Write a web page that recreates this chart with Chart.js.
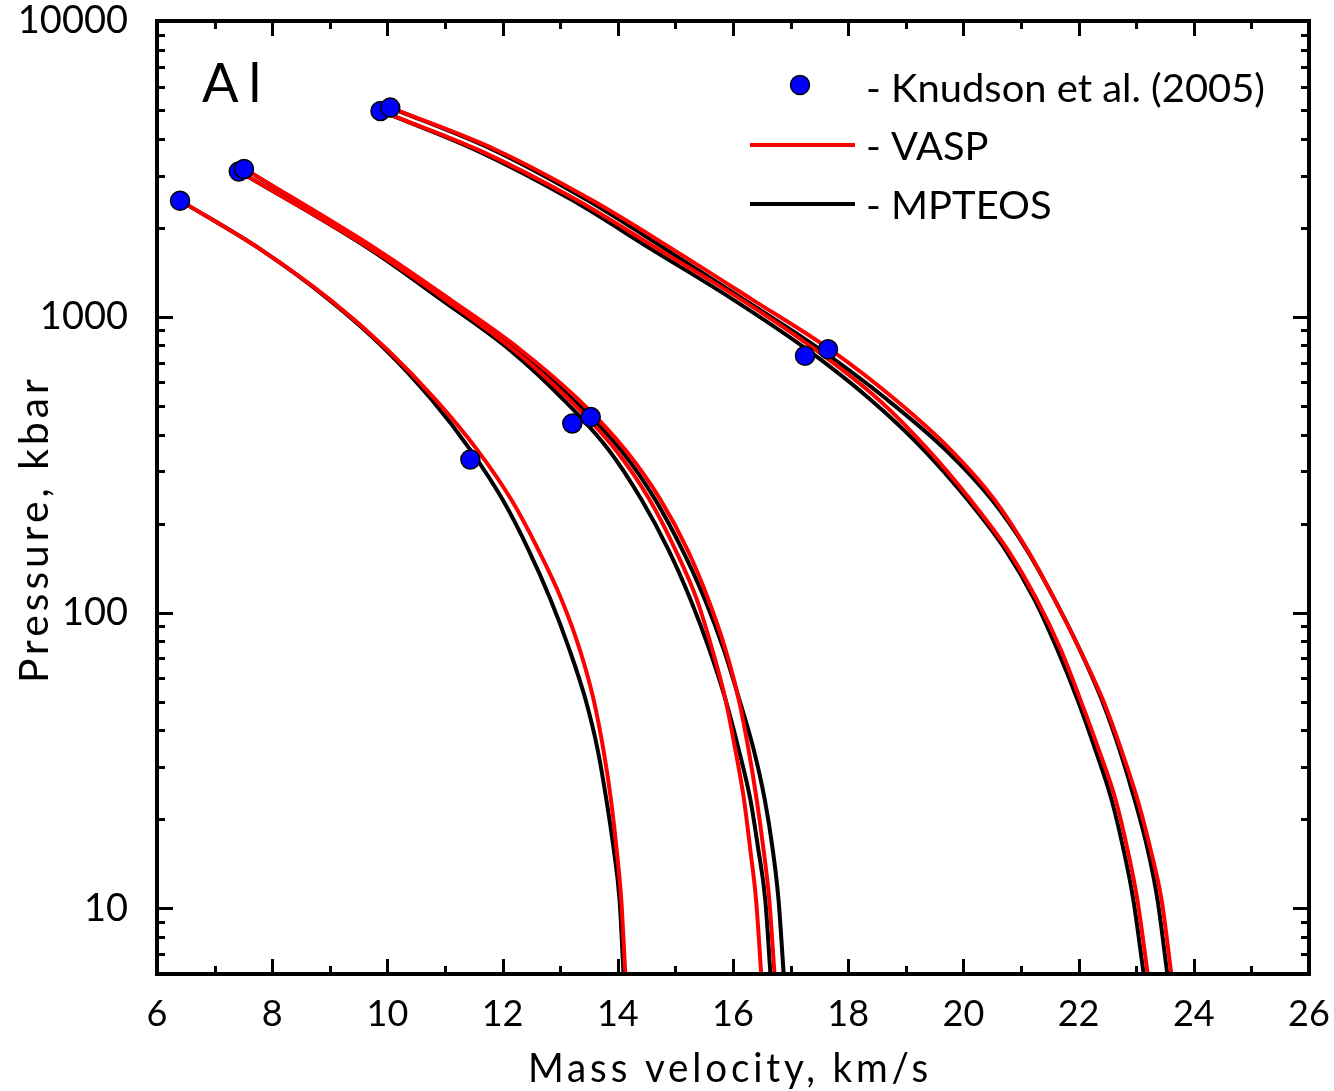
<!DOCTYPE html>
<html>
<head>
<meta charset="utf-8">
<title>Al release isentropes</title>
<script src="https://cdn.jsdelivr.net/npm/chart.js@4.4.1/dist/chart.umd.min.js"></script>
<style>
  html, body { margin: 0; padding: 0; background: #fff; }
  #wrap { width: 1334px; height: 1091px; }
</style>
</head>
<body>
<div id="wrap"><canvas id="chart" width="1334" height="1091"></canvas></div>
<script>
// Knudson et al. (2005): mass velocity (km/s) and pressure (kbar)
const knudsonU = [6.40, 7.42, 7.51, 9.88, 10.05, 11.44, 13.21, 13.53, 17.25, 17.65];
const knudsonP = [2466, 3098, 3162, 4966, 5095, 329, 436, 458, 738, 776];

// release from the lowest shock state
const release1P = [2466, 1684, 1141, 774, 524, 355, 241, 163, 111, 75, 50.8, 34.4, 23.4, 15.8, 10.7, 6];
const vasp1U    = [6.41, 7.81, 9.01, 10.00, 10.84, 11.56, 12.15, 12.62, 13.02, 13.34, 13.58, 13.75, 13.88, 13.98, 14.06, 14.13];
const mpteos1U  = [6.41, 7.81, 8.99, 9.97, 10.77, 11.44, 12.00, 12.45, 12.83, 13.16, 13.44, 13.65, 13.80, 13.93, 14.03, 14.10];

// releases from the two ~3 Mbar states
const release2aP = [3098, 1684, 1141, 774, 524, 355, 241, 163, 111, 75, 50.8, 34.4, 23.4, 15.8, 10.7, 6];
const vasp2aU    = [7.43, 9.74, 11.01, 12.19, 13.16, 13.96, 14.55, 15.00, 15.37, 15.64, 15.87, 16.04, 16.19, 16.30, 16.40, 16.49];
const mpteos2aU  = [7.43, 9.71, 10.94, 12.12, 13.06, 13.84, 14.41, 14.88, 15.26, 15.59, 15.87, 16.10, 16.30, 16.44, 16.56, 16.65];
const release2bP = [3162, 1684, 1141, 774, 524, 355, 241, 163, 111, 75, 50.8, 34.4, 23.4, 15.8, 10.7, 6];
const vasp2bU    = [7.52, 9.83, 11.10, 12.31, 13.32, 14.13, 14.74, 15.21, 15.57, 15.87, 16.10, 16.27, 16.41, 16.53, 16.63, 16.72];
const mpteos2bU  = [7.52, 9.79, 11.04, 12.24, 13.23, 14.05, 14.65, 15.12, 15.51, 15.84, 16.11, 16.36, 16.55, 16.69, 16.79, 16.88];

// releases from the two ~5 Mbar states
const release3aP = [5095, 3665, 2485, 1684, 1141, 774, 524, 355, 241, 163, 111, 75, 50.8, 34.4, 23.4, 15.8, 10.7, 6];
const vasp3aU    = [10.05, 11.89, 13.54, 14.97, 16.34, 17.69, 18.82, 19.78, 20.54, 21.11, 21.58, 22.02, 22.42, 22.74, 23.02, 23.25, 23.44, 23.61];
const mpteos3aU  = [10.05, 11.84, 13.46, 14.85, 16.20, 17.52, 18.68, 19.69, 20.49, 21.10, 21.58, 22.02, 22.40, 22.71, 22.97, 23.20, 23.37, 23.54];
const release3bP = [4966, 3665, 2485, 1684, 1141, 774, 524, 355, 241, 163, 111, 75, 50.8, 34.4, 23.4, 15.8, 10.7, 6];
const vasp3bU    = [9.88, 11.58, 13.28, 14.72, 16.15, 17.43, 18.53, 19.39, 20.12, 20.77, 21.27, 21.69, 22.03, 22.35, 22.64, 22.85, 23.02, 23.20];
const mpteos3bU  = [9.88, 11.53, 13.20, 14.60, 16.01, 17.29, 18.39, 19.31, 20.07, 20.73, 21.23, 21.63, 21.98, 22.29, 22.57, 22.78, 22.95, 23.13];

const velocityTicks = [6, 8, 10, 12, 14, 16, 18, 20, 22, 24, 26];
const pressureTicks = [10, 100, 1000, 10000];

const FONT = 'Lato, "Open Sans", sans-serif';

const pairs = (us, ps) => us.map((u, i) => ({ x: u, y: ps[i] }));

const curve = (label, us, ps, color) => ({
    label,
    data: pairs(us, ps),
    showLine: true,
    borderColor: color,
    borderWidth: 4,
    pointRadius: 0,
    pointHoverRadius: 0,
    fill: false,
    cubicInterpolationMode: 'monotone'
});

function putText(ctx, text, x, y, o) {
    ctx.save();
    ctx.font = o.font;
    ctx.letterSpacing = o.spacing || '0px';
    ctx.fillStyle = '#000';
    ctx.textBaseline = 'alphabetic';
    ctx.textAlign = o.align || 'left';
    const w = ctx.measureText(text).width;
    const sx = o.width ? o.width / w : (o.sx || 1);
    ctx.translate(x, y);
    if (o.angle) ctx.rotate(o.angle);
    ctx.scale(sx, 1);
    ctx.fillText(text, 0, 0);
    ctx.restore();
    return sx;
}

// inner tick marks, frame, axis titles, legend and the sample label
const decorations = {
    id: 'decorations',
    afterDraw(chart) {
        const { ctx, chartArea: a, scales: { x, y } } = chart;
        ctx.save();
        ctx.strokeStyle = '#000';
        ctx.lineCap = 'butt';
        ctx.lineWidth = 3;
        ctx.beginPath();
        for (let v = 6; v <= 26; v++) {
            const px = Math.round(x.getPixelForValue(v)) + 0.5;
            const len = v % 2 === 0 ? 15 : 8;
            ctx.moveTo(px, a.bottom); ctx.lineTo(px, a.bottom - len);
            ctx.moveTo(px, a.top); ctx.lineTo(px, a.top + len);
        }
        for (let e = 0; e <= 4; e++) {
            for (let m = 1; m <= 9; m++) {
                const v = m * Math.pow(10, e);
                if (v < y.min || v > y.max) continue;
                const py = Math.round(y.getPixelForValue(v)) + 0.5;
                const len = m === 1 ? 16 : 8;
                ctx.moveTo(a.left, py); ctx.lineTo(a.left + len, py);
                ctx.moveTo(a.right, py); ctx.lineTo(a.right - len, py);
            }
        }
        ctx.stroke();

        ctx.lineWidth = 4;
        ctx.strokeRect(a.left, a.top, a.right - a.left, a.bottom - a.top);

        // axis titles
        putText(ctx, 'Mass velocity, km/s', 730, 1082,
            { font: '40px ' + FONT, align: 'center', spacing: '4px', width: 404 });
        putText(ctx, 'Pressure, kbar', 48, 529,
            { font: '40px ' + FONT, align: 'center', spacing: '4px', width: 308, angle: -Math.PI / 2 });

        // sample label
        putText(ctx, 'Al', 202, 102, { font: '54px ' + FONT, spacing: '10px' });

        // legend
        ctx.beginPath();
        ctx.arc(800, 85, 9.5, 0, Math.PI * 2);
        ctx.fillStyle = '#0000ff';
        ctx.fill();
        ctx.lineWidth = 1.5;
        ctx.strokeStyle = '#000';
        ctx.stroke();

        ctx.lineWidth = 4;
        ctx.strokeStyle = '#ff0000';
        ctx.beginPath(); ctx.moveTo(750, 145); ctx.lineTo(855, 145); ctx.stroke();
        ctx.strokeStyle = '#000';
        ctx.beginPath(); ctx.moveTo(750, 204); ctx.lineTo(855, 204); ctx.stroke();

        const sx = putText(ctx, '- Knudson et al. (2005)', 866, 102, { font: '38px ' + FONT, width: 399 });
        putText(ctx, '- VASP', 866, 160, { font: '38px ' + FONT, sx });
        putText(ctx, '- MPTEOS', 866, 219, { font: '38px ' + FONT, sx });
        ctx.restore();
    }
};

new Chart(document.getElementById('chart'), {
    type: 'scatter',
    data: {
        datasets: [
            {
                label: 'Knudson et al. (2005)',
                data: pairs(knudsonU, knudsonP),
                backgroundColor: '#0000ff',
                borderColor: '#000',
                borderWidth: 1.5,
                pointRadius: 9.5,
                pointHoverRadius: 9.5
            },
            curve('VASP', vasp1U, release1P, '#ff0000'),
            curve('VASP', vasp2aU, release2aP, '#ff0000'),
            curve('VASP', vasp2bU, release2bP, '#ff0000'),
            curve('VASP', vasp3aU, release3aP, '#ff0000'),
            curve('VASP', vasp3bU, release3bP, '#ff0000'),
            curve('MPTEOS', mpteos1U, release1P, '#000000'),
            curve('MPTEOS', mpteos2aU, release2aP, '#000000'),
            curve('MPTEOS', mpteos2bU, release2bP, '#000000'),
            curve('MPTEOS', mpteos3aU, release3aP, '#000000'),
            curve('MPTEOS', mpteos3bU, release3bP, '#000000')
        ]
    },
    options: {
        responsive: false,
        animation: false,
        devicePixelRatio: 1,
        layout: { padding: { top: 21, right: 25, bottom: 0, left: 0 } },
        plugins: {
            legend: { display: false },
            tooltip: { enabled: false }
        },
        scales: {
            x: {
                type: 'linear',
                min: 6,
                max: 26,
                afterBuildTicks: s => { s.ticks = velocityTicks.map(v => ({ value: v })); },
                afterFit: s => {
                    s.height = 117;
                    s.paddingLeft = 0;
                    s.paddingRight = 0;
                },
                grid: { display: false },
                border: { display: false },
                ticks: {
                    autoSkip: false,
                    maxRotation: 0,
                    padding: 11,
                    color: '#000',
                    font: { family: FONT, size: 36 },
                    callback: v => String(v)
                }
            },
            y: {
                type: 'logarithmic',
                min: 6,
                max: 10000,
                afterBuildTicks: s => { s.ticks = pressureTicks.map(v => ({ value: v })); },
                afterFit: s => {
                    s.width = 157;
                    s.paddingTop = 0;
                    s.paddingBottom = 0;
                },
                grid: { display: false },
                border: { display: false },
                ticks: {
                    autoSkip: false,
                    padding: 21,
                    color: '#000',
                    font: { family: FONT, size: 38 },
                    callback: v => String(v)
                }
            }
        }
    },
    plugins: [decorations]
});
</script>
</body>
</html>
